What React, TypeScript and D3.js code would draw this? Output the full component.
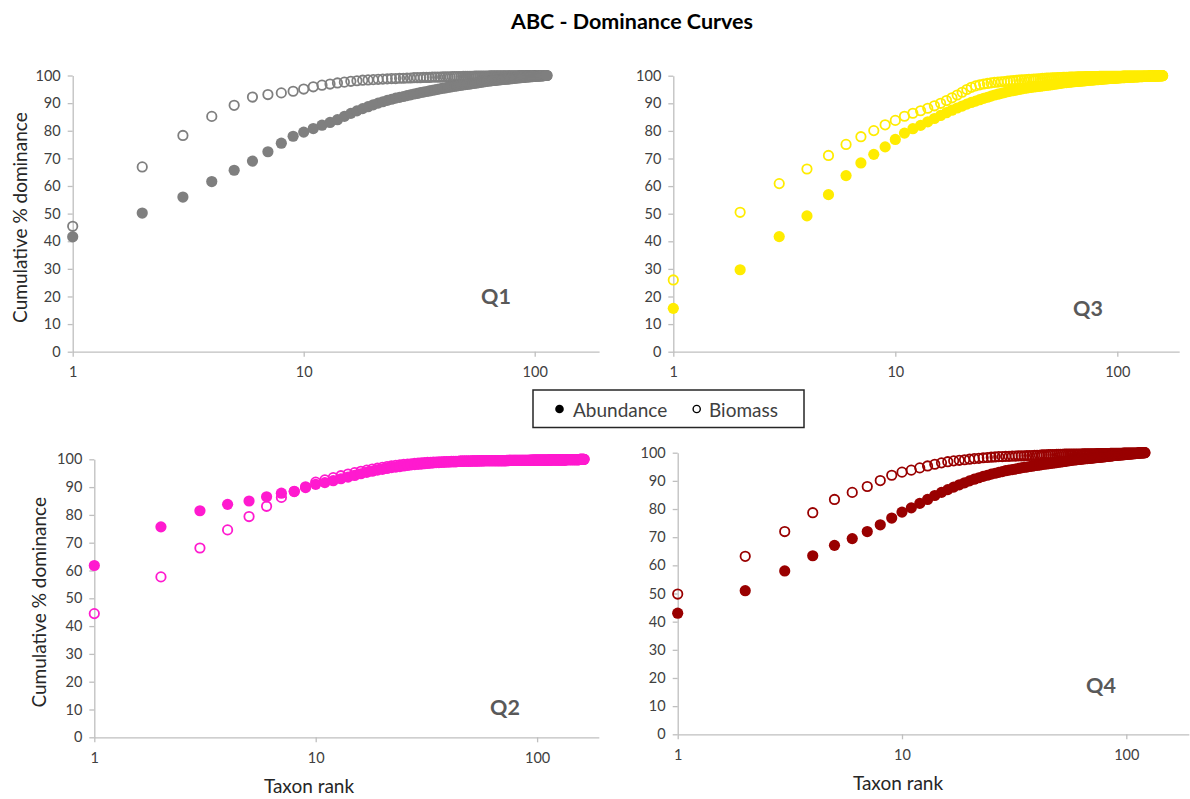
import * as d3 from "d3";
import { useEffect, useRef } from "react";

// cumulative % dominance by taxon rank (rank = index + 1)
const q1Abundance = [
  41.6, 50.2, 56.0, 61.6, 65.7, 69.0, 72.4, 75.5, 78.0, 79.5,
  80.8, 82.0, 83.0, 84.0, 85.2, 86.3, 87.2, 88.0, 88.7, 89.4,
  90.0, 90.5, 91.0, 91.4, 91.8, 92.1, 92.4, 92.7, 93.0, 93.3,
  93.5, 93.8, 94.0, 94.2, 94.4, 94.6, 94.8, 95.0, 95.2, 95.4,
  95.5, 95.7, 95.8, 96.0, 96.1, 96.2, 96.4, 96.5, 96.6, 96.7,
  96.8, 96.9, 97.0, 97.1, 97.2, 97.3, 97.4, 97.5, 97.6, 97.7,
  97.8, 97.9, 98.0, 98.0, 98.1, 98.2, 98.2, 98.3, 98.4, 98.4,
  98.5, 98.5, 98.6, 98.6, 98.7, 98.7, 98.8, 98.8, 98.9, 98.9,
  99.0, 99.0, 99.1, 99.1, 99.2, 99.2, 99.2, 99.3, 99.3, 99.4,
  99.4, 99.4, 99.5, 99.5, 99.5, 99.6, 99.6, 99.6, 99.7, 99.7,
  99.7, 99.8, 99.8, 99.8, 99.8, 99.9, 99.9, 99.9, 99.9, 100,
  100, 100, 100,
];
const q1Biomass = [
  45.4, 66.9, 78.3, 85.2, 89.2, 92.2, 93.1, 93.7, 94.3, 95.1,
  95.9, 96.5, 96.9, 97.3, 97.6, 97.9, 98.1, 98.3, 98.4, 98.5,
  98.6, 98.7, 98.8, 98.9, 98.9, 99.0, 99.0, 99.1, 99.1, 99.2,
  99.2, 99.2, 99.3, 99.3, 99.3, 99.4, 99.4, 99.4, 99.4, 99.5,
  99.5, 99.5, 99.5, 99.6, 99.6, 99.6, 99.6, 99.6, 99.7, 99.7,
  99.7, 99.7, 99.7, 99.7, 99.8, 99.8, 99.8, 99.8, 99.8, 99.8,
  99.8, 99.8, 99.8, 99.9, 99.9, 99.9, 99.9, 99.9, 99.9, 99.9,
  99.9, 99.9, 99.9, 99.9, 99.9, 99.9, 99.9, 99.9, 99.9, 99.9,
  99.9, 99.9, 99.9, 99.9, 99.9, 100, 100, 100, 100, 100,
  100, 100, 100, 100, 100, 100, 100, 100, 100, 100,
  100, 100, 100, 100, 100, 100, 100, 100, 100, 100,
  100, 100, 100,
];

const q3Abundance = [
  15.7, 29.7, 41.7, 49.2, 56.9, 63.8, 68.4, 71.5, 74.2, 76.9,
  79.2, 80.8, 82.0, 83.3, 84.5, 85.6, 86.6, 87.5, 88.3, 89.0,
  89.7, 90.3, 90.8, 91.3, 91.8, 92.2, 92.6, 93.0, 93.3, 93.6,
  93.9, 94.2, 94.4, 94.6, 94.8, 95.0, 95.2, 95.4, 95.5, 95.7,
  95.8, 95.9, 96.0, 96.1, 96.2, 96.3, 96.4, 96.5, 96.6, 96.7,
  96.8, 96.9, 97.0, 97.1, 97.2, 97.3, 97.4, 97.5, 97.5, 97.6,
  97.7, 97.7, 97.8, 97.8, 97.9, 97.9, 98.0, 98.0, 98.1, 98.1,
  98.2, 98.2, 98.3, 98.3, 98.4, 98.4, 98.4, 98.5, 98.5, 98.6,
  98.6, 98.6, 98.7, 98.7, 98.7, 98.8, 98.8, 98.8, 98.9, 98.9,
  98.9, 99.0, 99.0, 99.0, 99.0, 99.1, 99.1, 99.1, 99.1, 99.2,
  99.2, 99.2, 99.2, 99.3, 99.3, 99.3, 99.3, 99.3, 99.4, 99.4,
  99.4, 99.4, 99.4, 99.5, 99.5, 99.5, 99.5, 99.5, 99.6, 99.6,
  99.6, 99.6, 99.6, 99.6, 99.7, 99.7, 99.7, 99.7, 99.7, 99.7,
  99.8, 99.8, 99.8, 99.8, 99.8, 99.8, 99.8, 99.8, 99.9, 99.9,
  99.9, 99.9, 99.9, 99.9, 99.9, 99.9, 99.9, 99.9, 99.9, 99.9,
  99.9, 99.9, 99.9, 100, 100, 100, 100, 100, 100, 100,
];
const q3Biomass = [
  26.0, 50.5, 60.9, 66.2, 71.1, 75.1, 77.9, 80.1, 82.2, 83.8,
  85.3, 86.4, 87.3, 88.2, 89.1, 90.0, 91.0, 92.0, 93.0, 94.0,
  95.0, 95.8, 96.3, 96.7, 97.0, 97.2, 97.4, 97.6, 97.7, 97.8,
  97.9, 98.0, 98.1, 98.2, 98.3, 98.4, 98.5, 98.5, 98.6, 98.7,
  98.7, 98.8, 98.8, 98.9, 98.9, 99.0, 99.0, 99.1, 99.1, 99.1,
  99.2, 99.2, 99.2, 99.3, 99.3, 99.3, 99.4, 99.4, 99.4, 99.4,
  99.5, 99.5, 99.5, 99.5, 99.5, 99.6, 99.6, 99.6, 99.6, 99.6,
  99.6, 99.7, 99.7, 99.7, 99.7, 99.7, 99.7, 99.7, 99.7, 99.7,
  99.7, 99.7, 99.8, 99.8, 99.8, 99.8, 99.8, 99.8, 99.8, 99.8,
  99.8, 99.8, 99.8, 99.8, 99.8, 99.8, 99.8, 99.8, 99.8, 99.8,
  99.8, 99.8, 99.8, 99.8, 99.8, 99.9, 99.9, 99.9, 99.9, 99.9,
  99.9, 99.9, 99.9, 99.9, 99.9, 99.9, 99.9, 99.9, 99.9, 99.9,
  99.9, 99.9, 99.9, 99.9, 99.9, 99.9, 99.9, 99.9, 99.9, 99.9,
  99.9, 99.9, 99.9, 99.9, 99.9, 99.9, 99.9, 99.9, 99.9, 99.9,
  100, 100, 100, 100, 100, 100, 100, 100, 100, 100,
  100, 100, 100, 100, 100, 100, 100, 100, 100, 100,
];

const q2Abundance = [
  61.8, 75.7, 81.5, 83.8, 85.0, 86.5, 87.8, 88.5, 89.8, 91.0,
  91.6, 92.3, 93.0, 93.6, 94.2, 94.8, 95.3, 95.7, 96.1, 96.4,
  96.7, 97.0, 97.2, 97.4, 97.6, 97.8, 98.0, 98.1, 98.2, 98.3,
  98.4, 98.5, 98.6, 98.7, 98.8, 98.8, 98.9, 98.9, 99.0, 99.0,
  99.1, 99.1, 99.1, 99.2, 99.2, 99.2, 99.3, 99.3, 99.3, 99.3,
  99.4, 99.4, 99.4, 99.4, 99.4, 99.4, 99.4, 99.5, 99.5, 99.5,
  99.5, 99.5, 99.5, 99.5, 99.5, 99.5, 99.5, 99.5, 99.5, 99.5,
  99.5, 99.5, 99.5, 99.5, 99.6, 99.6, 99.6, 99.6, 99.6, 99.6,
  99.6, 99.6, 99.6, 99.6, 99.6, 99.6, 99.6, 99.6, 99.6, 99.6,
  99.6, 99.6, 99.6, 99.6, 99.6, 99.7, 99.7, 99.7, 99.7, 99.7,
  99.7, 99.7, 99.7, 99.7, 99.7, 99.7, 99.7, 99.7, 99.7, 99.7,
  99.7, 99.7, 99.7, 99.7, 99.7, 99.8, 99.8, 99.8, 99.8, 99.8,
  99.8, 99.8, 99.8, 99.8, 99.8, 99.8, 99.8, 99.8, 99.8, 99.8,
  99.8, 99.8, 99.8, 99.8, 99.8, 99.9, 99.9, 99.9, 99.9, 99.9,
  99.9, 99.9, 99.9, 99.9, 99.9, 99.9, 99.9, 99.9, 99.9, 99.9,
  99.9, 99.9, 99.9, 99.9, 99.9, 100, 100, 100, 100, 100,
  100, 100, 100,
];
const q2Biomass = [
  44.5, 57.7, 68.1, 74.6, 79.4, 83.1, 86.3, 88.4, 90.1, 91.8,
  92.6, 93.4, 94.1, 94.7, 95.2, 95.7, 96.1, 96.5, 96.8, 97.1,
  97.4, 97.6, 97.8, 98.0, 98.2, 98.3, 98.4, 98.5, 98.6, 98.7,
  98.8, 98.9, 98.9, 99.0, 99.0, 99.1, 99.1, 99.2, 99.2, 99.2,
  99.3, 99.3, 99.3, 99.3, 99.4, 99.4, 99.4, 99.4, 99.4, 99.4,
  99.4, 99.4, 99.4, 99.4, 99.5, 99.5, 99.5, 99.5, 99.5, 99.5,
  99.5, 99.5, 99.5, 99.5, 99.5, 99.5, 99.5, 99.5, 99.5, 99.5,
  99.5, 99.5, 99.6, 99.6, 99.6, 99.6, 99.6, 99.6, 99.6, 99.6,
  99.6, 99.6, 99.6, 99.6, 99.6, 99.6, 99.6, 99.6, 99.6, 99.6,
  99.6, 99.6, 99.7, 99.7, 99.7, 99.7, 99.7, 99.7, 99.7, 99.7,
  99.7, 99.7, 99.7, 99.7, 99.7, 99.7, 99.7, 99.7, 99.7, 99.7,
  99.7, 99.7, 99.7, 99.8, 99.8, 99.8, 99.8, 99.8, 99.8, 99.8,
  99.8, 99.8, 99.8, 99.8, 99.8, 99.8, 99.8, 99.8, 99.8, 99.8,
  99.8, 99.8, 99.8, 99.8, 99.8, 99.9, 99.9, 99.9, 99.9, 99.9,
  99.9, 99.9, 99.9, 99.9, 99.9, 99.9, 99.9, 99.9, 99.9, 99.9,
  99.9, 99.9, 99.9, 99.9, 99.9, 100, 100, 100, 100, 100,
  100, 100, 100,
];

const q4Abundance = [
  43.0, 51.0, 58.0, 63.4, 67.1, 69.5, 72.0, 74.4, 76.8, 78.9,
  80.4, 82.0, 83.4, 84.8, 85.9, 86.9, 87.8, 88.6, 89.3, 90.0,
  90.6, 91.1, 91.6, 92.0, 92.4, 92.7, 93.0, 93.3, 93.6, 93.8,
  94.0, 94.2, 94.4, 94.6, 94.8, 94.9, 95.1, 95.2, 95.4, 95.5,
  95.6, 95.8, 95.9, 96.0, 96.1, 96.2, 96.3, 96.4, 96.5, 96.6,
  96.7, 96.8, 96.9, 97.0, 97.1, 97.2, 97.3, 97.4, 97.4, 97.5,
  97.6, 97.6, 97.7, 97.8, 97.8, 97.9, 97.9, 98.0, 98.0, 98.1,
  98.1, 98.2, 98.2, 98.3, 98.3, 98.4, 98.4, 98.5, 98.5, 98.6,
  98.6, 98.7, 98.7, 98.8, 98.8, 98.9, 98.9, 99.0, 99.0, 99.0,
  99.1, 99.1, 99.2, 99.2, 99.2, 99.3, 99.3, 99.3, 99.4, 99.4,
  99.4, 99.5, 99.5, 99.5, 99.6, 99.6, 99.6, 99.7, 99.7, 99.7,
  99.8, 99.8, 99.8, 99.9, 99.9, 99.9, 99.9, 100, 100, 100,
  100,
];
const q4Biomass = [
  49.8, 63.2, 72.0, 78.7, 83.4, 85.9, 88.0, 90.1, 92.0, 93.1,
  93.8, 94.6, 95.3, 95.9, 96.4, 96.8, 97.1, 97.3, 97.5, 97.7,
  97.9, 98.0, 98.2, 98.3, 98.4, 98.5, 98.6, 98.6, 98.7, 98.7,
  98.8, 98.8, 98.9, 98.9, 98.9, 99.0, 99.0, 99.0, 99.1, 99.1,
  99.1, 99.2, 99.2, 99.2, 99.3, 99.3, 99.3, 99.3, 99.4, 99.4,
  99.4, 99.4, 99.5, 99.5, 99.5, 99.5, 99.5, 99.5, 99.5, 99.5,
  99.5, 99.5, 99.5, 99.6, 99.6, 99.6, 99.6, 99.6, 99.6, 99.6,
  99.6, 99.6, 99.6, 99.7, 99.7, 99.7, 99.7, 99.7, 99.7, 99.7,
  99.7, 99.7, 99.7, 99.7, 99.8, 99.8, 99.8, 99.8, 99.8, 99.8,
  99.8, 99.8, 99.8, 99.8, 99.8, 99.8, 99.9, 99.9, 99.9, 99.9,
  99.9, 99.9, 99.9, 99.9, 99.9, 99.9, 99.9, 99.9, 99.9, 99.9,
  99.9, 99.9, 99.9, 100, 100, 100, 100, 100, 100, 100,
  100,
];

const yTicks = [0, 10, 20, 30, 40, 50, 60, 70, 80, 90, 100];
const xTicks = [1, 10, 100];
const xMax = 190;
const seriesNames = ["Abundance", "Biomass"];

// layout of the four panels (pixel positions)
const panels = [
  { label: "Q1", abundance: q1Abundance, biomass: q1Biomass, color: "#7F7F7F",
    left: 72.7, decade: 231, top: 75.5, bottom: 351.7, qx: 496, qy: 304,
    yTitle: true, yTitleX: 19, xTitle: false, xTitleX: 0 },
  { label: "Q3", abundance: q3Abundance, biomass: q3Biomass, color: "#FFEC00",
    left: 673.3, decade: 222, top: 75.7, bottom: 351.7, qx: 1088, qy: 316,
    yTitle: false, yTitleX: 0, xTitle: false, xTitleX: 0 },
  { label: "Q2", abundance: q2Abundance, biomass: q2Biomass, color: "#FF1ACF",
    left: 94.3, decade: 221.4, top: 459.3, bottom: 737.3, qx: 505, qy: 715,
    yTitle: true, yTitleX: 38, xTitle: true, xTitleX: 309 },
  { label: "Q4", abundance: q4Abundance, biomass: q4Biomass, color: "#990000",
    left: 677.7, decade: 224.3, top: 452.7, bottom: 734.3, qx: 1101, qy: 693,
    yTitle: false, yTitleX: 0, xTitle: true, xTitleX: 898 },
];

const font = "Lato, 'Open Sans', sans-serif";

const App = () => {
  const width = 1190;
  const height = 799;
  const svgRef = useRef(null);

  useEffect(() => {
    if (!svgRef.current) return;
    const svg = d3.select(svgRef.current);
    svg.selectAll("*").remove();

    svg
      .append("text")
      .attr("x", 632)
      .attr("y", 29)
      .attr("text-anchor", "middle")
      .attr("font-family", font)
      .attr("font-weight", "bold")
      .attr("font-size", 21.5)
      .attr("fill", "#000")
      .text("ABC - Dominance Curves");

    panels.forEach((p) => {
      const x = d3.scaleLog([1, xMax], [p.left, p.left + p.decade * Math.log10(xMax)]);
      const y = d3.scaleLinear([0, 100], [p.bottom, p.top]);
      const g = svg.append("g");

      const yAxis = g
        .append("g")
        .attr("transform", `translate(${p.left},0)`)
        .call(d3.axisLeft(y).tickValues(yTicks).tickSize(5).tickSizeOuter(0).tickPadding(7));
      const xAxis = g
        .append("g")
        .attr("transform", `translate(0,${p.bottom})`)
        .call(
          d3.axisBottom(x).tickValues(xTicks).tickFormat(d3.format("d"))
            .tickSize(5).tickSizeOuter(0).tickPadding(10)
        );
      [yAxis, xAxis].forEach((a) => {
        a.select(".domain").attr("stroke", "#BFBFBF").attr("stroke-width", 1.3);
        a.selectAll(".tick line").attr("stroke", "#BFBFBF").attr("stroke-width", 1.3);
        a.selectAll(".tick text")
          .attr("font-family", font)
          .attr("font-size", 14.5)
          .attr("fill", "#404040");
      });

      // biomass (hollow) drawn first, abundance (filled) on top
      g.append("g")
        .selectAll("circle")
        .data(p.biomass)
        .join("circle")
        .attr("cx", (d, i) => x(i + 1))
        .attr("cy", (d) => y(d))
        .attr("r", 4.7)
        .attr("fill", "none")
        .attr("stroke", p.color)
        .attr("stroke-width", 1.8);

      g.append("g")
        .selectAll("circle")
        .data(p.abundance)
        .join("circle")
        .attr("cx", (d, i) => x(i + 1))
        .attr("cy", (d) => y(d))
        .attr("r", 5.6)
        .attr("fill", p.color);

      g.append("text")
        .attr("x", p.qx)
        .attr("y", p.qy)
        .attr("text-anchor", "middle")
        .attr("font-family", font)
        .attr("font-weight", "bold")
        .attr("font-size", 21.5)
        .attr("fill", "#595959")
        .text(p.label);

      if (p.yTitle) {
        g.append("text")
          .attr("transform", `translate(${p.yTitleX},${(p.top + p.bottom) / 2 + 4}) rotate(-90)`)
          .attr("text-anchor", "middle")
          .attr("dominant-baseline", "central")
          .attr("font-family", font)
          .attr("font-size", 19)
          .attr("fill", "#262626")
          .text("Cumulative % dominance");
      }
      if (p.xTitle) {
        g.append("text")
          .attr("x", p.xTitleX)
          .attr("y", p.bottom + 56)
          .attr("text-anchor", "middle")
          .attr("font-family", font)
          .attr("font-size", 19)
          .attr("fill", "#262626")
          .text("Taxon rank");
      }
    });

    // legend
    const legend = svg.append("g");
    legend
      .append("rect")
      .attr("x", 533)
      .attr("y", 390)
      .attr("width", 271)
      .attr("height", 37.5)
      .attr("fill", "white")
      .attr("stroke", "#262626")
      .attr("stroke-width", 1.5);
    legend
      .append("circle")
      .attr("cx", 559.5)
      .attr("cy", 409)
      .attr("r", 4.3)
      .attr("fill", "#000");
    legend
      .append("circle")
      .attr("cx", 696.7)
      .attr("cy", 409)
      .attr("r", 3.6)
      .attr("fill", "none")
      .attr("stroke", "#000")
      .attr("stroke-width", 1.4);
    legend
      .selectAll("text")
      .data(seriesNames)
      .join("text")
      .attr("x", (d, i) => (i === 0 ? 573 : 709))
      .attr("y", 409)
      .attr("dominant-baseline", "central")
      .attr("font-family", font)
      .attr("font-size", 19)
      .attr("fill", "#404040")
      .text((d) => d);
  }, []);

  return (
    <svg
      width={width}
      height={height}
      ref={svgRef}
      style={{ position: "absolute", left: 0, top: 0, background: "white" }}
    ></svg>
  );
};

export default App;
